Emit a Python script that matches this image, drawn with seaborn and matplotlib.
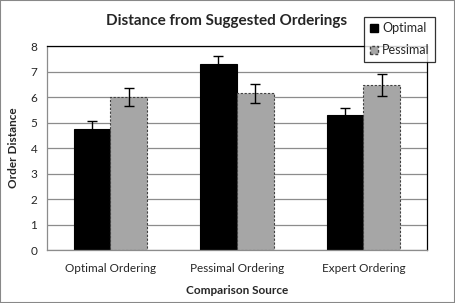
import numpy as np
import pandas as pd
import matplotlib
matplotlib.use("Agg")
import matplotlib.pyplot as plt
import seaborn as sns
from matplotlib.patches import Rectangle

# -----------------------------
# Datos
# -----------------------------
sources = ["Optimal Ordering", "Pessimal Ordering", "Expert Ordering"]
series = ["Optimal", "Pessimal"]
optimal_vals = [4.75, 7.29, 5.29]
pessimal_vals = [6.0, 6.14, 6.47]
optimal_err = [0.3, 0.31, 0.27]
pessimal_err = [0.35, 0.39, 0.42]

df = pd.DataFrame({
    "Source": sources * 2,
    "Series": ["Optimal"] * 3 + ["Pessimal"] * 3,
    "Distance": optimal_vals + pessimal_vals,
    "Err": optimal_err + pessimal_err,
})

sns.set_style("white")
plt.rcParams["font.family"] = ["Lato", "DejaVu Sans"]

fig = plt.figure(figsize=(4.55, 3.03), dpi=100)
ax = fig.add_axes([0.1033, 0.1749, 0.8345, 0.6731])

sns.barplot(data=df, x="Source", y="Distance", hue="Series", order=sources,
            hue_order=series, palette=["#000000", "#A6A6A6"], width=0.58,
            errorbar=None, ax=ax, legend=False, saturation=1)

# bordes: negro para Optimal, discontinuo para Pessimal
for i, patch in enumerate(ax.patches[:6]):
    if i < 3:
        patch.set_edgecolor("#000000")
        patch.set_linewidth(0.8)
    else:
        patch.set_edgecolor("#404040")
        patch.set_linestyle((0, (2, 1.5)))
        patch.set_linewidth(0.8)

# barras de error sobre cada barra
for patch, err in zip(ax.patches[:6], df["Err"]):
    xc = patch.get_x() + patch.get_width() / 2
    ax.errorbar(xc, patch.get_height(), yerr=err, color="black", lw=1,
                capsize=3.5, capthick=1, zorder=5)

ax.set_ylim(0, 8)
ax.set_xlim(-0.5, 2.5)
ax.set_yticks(range(0, 9))
ax.yaxis.grid(True, color="#8C8C8C", lw=0.9)
ax.set_axisbelow(True)

ax.set_xticks(range(3))
ax.set_xticklabels(sources, fontsize=8.5)
ax.set_xticks([0.5, 1.5, 2.5], minor=True)
ax.tick_params(axis="x", which="major", length=0, pad=9)
ax.tick_params(axis="x", which="minor", length=4, color="#8C8C8C", width=0.9)
ax.tick_params(axis="y", length=4, color="#8C8C8C", width=0.9, labelsize=8.5, pad=3)

for side in ["left", "bottom"]:
    ax.spines[side].set_color("#8C8C8C")
    ax.spines[side].set_linewidth(0.9)
for side in ["top", "right"]:
    ax.spines[side].set_color("black")
    ax.spines[side].set_linewidth(0.9)

ax.set_xlabel("Comparison Source", fontsize=8.5, fontweight="bold", labelpad=8)
ax.set_ylabel("Order Distance", fontsize=8.5, fontweight="bold", labelpad=8)
fig.text(0.498, 0.93, "Distance from Suggested Orderings", ha="center", va="center",
         fontsize=11, fontweight="bold")

handles = [Rectangle((0, 0), 1, 1, fc="#000000", ec="black"),
           Rectangle((0, 0), 1, 1, fc="#A6A6A6", ec="#404040", ls=(0, (2, 1.5)))]
leg = fig.legend(handles, series, loc="upper left", bbox_to_anchor=(0.8, 0.945),
                 frameon=True, fancybox=False, fontsize=9, handlelength=0.7,
                 handleheight=0.7, handletextpad=0.3, labelspacing=0.8,
                 borderpad=0.45, borderaxespad=0)
leg.get_frame().set_edgecolor("black")
leg.get_frame().set_linewidth(0.9)

fig.patches.append(Rectangle((0, 0), 1, 1, transform=fig.transFigure, fill=False,
                             ec="#888888", lw=1.5))

fig.savefig("out.png", dpi=100)
